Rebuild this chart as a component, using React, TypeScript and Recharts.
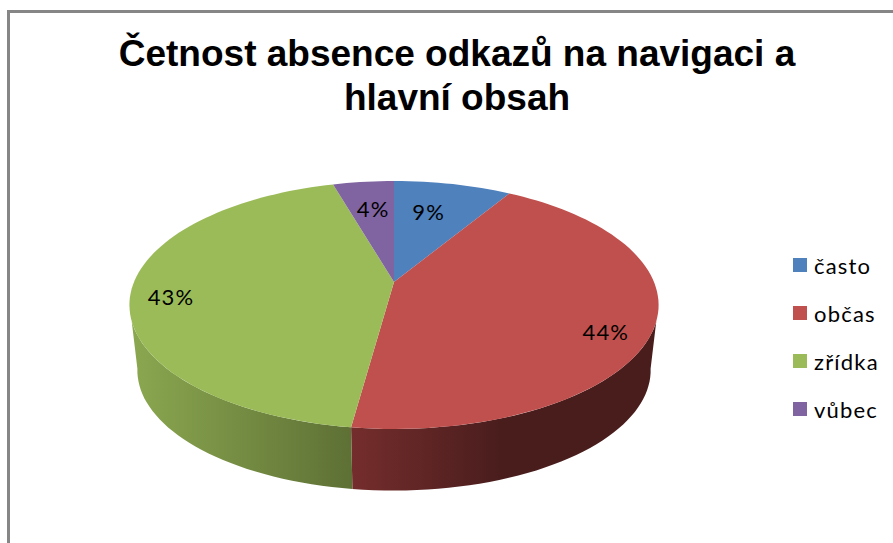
import { Legend, Pie, PieChart } from "recharts";

const categories = ["často", "občas", "zřídka", "vůbec"];
const shares = [8.6, 43.55, 43.4, 4.45];
const colors = ["#4F81BD", "#C0504D", "#9BBB59", "#8064A2"];
const titleLines = ["Četnost absence odkazů na navigaci a", "hlavní obsah"];

const chartData = categories.map((name, i) => ({ name, value: shares[i] }));

// label placement for each slice: radial fraction and vertical nudge
const LABEL_SPOTS = [
  { f: 0.55, dy: -13 },
  { f: 0.82, dy: 15 },
  { f: 0.85, dy: 7 },
  { f: 0.64, dy: -6 },
];

// fake 3D: project the flat pie through a simple perspective
const TILT = 0.1855;
const STRETCH_X = 2.172;
const DEPTH = 66;
const BOTTOM_SCALE = 0.97;
const FONT = "Lato, sans-serif";

const RAD = Math.PI / 180;

function project(cx: number, cy: number, r: number, a: number, f = 1) {
  const u = f * Math.sin(a * RAD);
  const v = f * Math.cos(a * RAD);
  const w = 1 + TILT * v;
  return { x: cx + (r * STRETCH_X * u) / w, y: cy - (r * v) / w };
}

function arc(cx: number, cy: number, r: number, from: number, to: number) {
  const pts = [];
  const steps = Math.max(2, Math.ceil(Math.abs(to - from) / 2));
  for (let i = 0; i <= steps; i++) {
    pts.push(project(cx, cy, r, from + ((to - from) * i) / steps));
  }
  return pts;
}

const toPath = (pts: { x: number; y: number }[]) =>
  pts.map((p, i) => `${i ? "L" : "M"}${p.x.toFixed(1)} ${p.y.toFixed(1)}`).join(" ");

function TopSector(props: any) {
  const { cx, cy, outerRadius, startAngle, endAngle, fill } = props;
  const pts = arc(cx, cy, outerRadius, 90 - startAngle, 90 - endAngle);
  return <path d={`M${cx} ${cy} ${toPath(pts).replace("M", "L")} Z`} fill={fill} />;
}

function WallSector(props: any) {
  const { cx, cy, outerRadius, startAngle, endAngle, index } = props;
  const s = 90 - startAngle;
  const e = 90 - endAngle;
  const topFrom = Math.max(s, 108);
  const topTo = Math.min(e, 252);
  if (topFrom >= topTo) return <g />;
  const top = arc(cx, cy, outerRadius, topFrom, topTo);
  const bottom = arc(cx, cy, outerRadius, Math.min(e, 260), Math.max(s, 100)).map((p) => ({
    x: cx + (p.x - cx) * BOTTOM_SCALE,
    y: cy + (p.y - cy) * BOTTOM_SCALE + DEPTH,
  }));
  return <path d={`${toPath([...top, ...bottom])} Z`} fill={`url(#wall-${index})`} />;
}

function renderLabel(props: any) {
  const { cx, cy, outerRadius, midAngle, percent, index } = props;
  const spot = LABEL_SPOTS[index];
  const p = project(cx, cy, outerRadius, 90 - midAngle, spot.f);
  return (
    <text
      x={p.x}
      y={p.y + spot.dy}
      textAnchor="middle"
      dominantBaseline="central"
      fontFamily={FONT}
      fontSize={22}
      letterSpacing={1.2}
      fill="#000"
    >
      {`${Math.round(percent * 100)}%`}
    </text>
  );
}

function ChartLegend() {
  return (
    <div>
      {categories.map((name, i) => (
        <div
          key={name}
          style={{
            display: "flex",
            alignItems: "center",
            height: 48,
            fontFamily: FONT,
            fontSize: 22,
            letterSpacing: 1.2,
            color: "#000",
          }}
        >
          <span style={{ width: 14, height: 14, background: colors[i], marginRight: 7 }} />
          {name}
        </div>
      ))}
    </div>
  );
}

export default function App() {
  return (
    <div style={{ position: "absolute", left: 0, top: 0, width: 893, height: 543, background: "#fff", overflow: "hidden" }}>
      <div
        style={{
          position: "absolute",
          left: 7,
          top: 10,
          width: 900,
          height: 600,
          borderLeft: "3px solid #868686",
          borderTop: "3px solid #868686",
        }}
      />
      <div style={{ position: "absolute", left: 0, top: 0 }}>
        <PieChart width={893} height={543} margin={{ top: 0, right: 0, bottom: 0, left: 0 }}>
          <defs>
            <linearGradient id="wall-1" gradientUnits="userSpaceOnUse" x1={352} x2={500} y1={0} y2={0}>
              <stop offset="0" stopColor="#742D2C" />
              <stop offset="1" stopColor="#4A1D1D" />
            </linearGradient>
            <linearGradient id="wall-2" gradientUnits="userSpaceOnUse" x1={130} x2={352} y1={0} y2={0}>
              <stop offset="0" stopColor="#8BA850" />
              <stop offset="1" stopColor="#5E7035" />
            </linearGradient>
          </defs>
          {titleLines.map((line, i) => (
            <text
              key={line}
              x={457}
              y={66 + i * 44}
              textAnchor="middle"
              fontFamily="Liberation Sans, Arial, sans-serif"
              fontWeight="bold"
              fontSize={37}
              fill="#000"
            >
              {line}
            </text>
          ))}
          <Pie
            data={chartData}
            dataKey="value"
            nameKey="name"
            cx={394}
            cy={282}
            outerRadius={119.7}
            startAngle={90}
            endAngle={-270}
            stroke="none"
            shape={WallSector}
            isAnimationActive={false}
          />
          <Pie
            data={chartData.map((d, i) => ({ ...d, fill: colors[i] }))}
            dataKey="value"
            nameKey="name"
            cx={394}
            cy={282}
            outerRadius={119.7}
            startAngle={90}
            endAngle={-270}
            stroke="none"
            shape={TopSector}
            label={renderLabel}
            labelLine={false}
            isAnimationActive={false}
          />
          <Legend
            layout="vertical"
            content={<ChartLegend />}
            wrapperStyle={{ position: "absolute", left: 793, top: 241, width: 100 }}
          />
        </PieChart>
      </div>
    </div>
  );
}
